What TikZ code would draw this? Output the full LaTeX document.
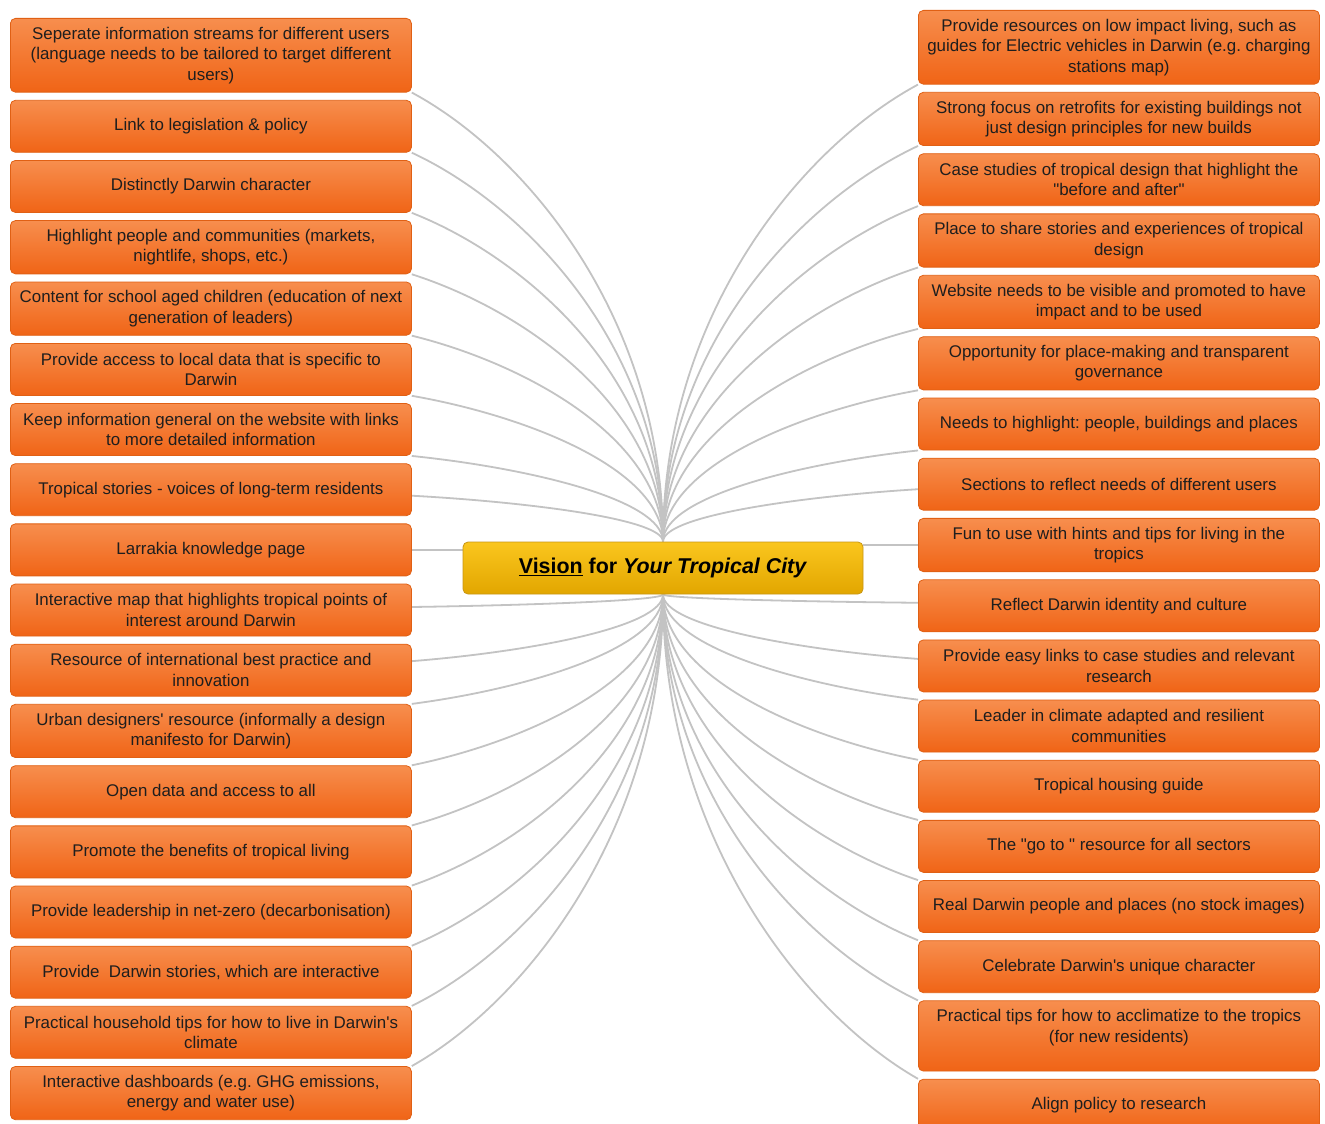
\documentclass[tikz,border=0pt]{standalone}
\usepackage{fontspec}
\setmainfont{Liberation Sans}
\usetikzlibrary{positioning}
\usetikzlibrary{calc}
\usetikzlibrary{backgrounds}
\frenchspacing

\definecolor{boxtop}{RGB}{247,142,78}
\definecolor{boxbottom}{RGB}{240,100,22}
\definecolor{boxedge}{RGB}{224,96,20}
\definecolor{boxtext}{RGB}{30,30,30}
\definecolor{hubtop}{RGB}{250,198,30}
\definecolor{hubbottom}{RGB}{226,166,0}
\definecolor{hubedge}{RGB}{200,150,20}
\definecolor{spokegray}{RGB}{195,195,195}

\tikzset{
  idea/.style={draw=boxedge, line width=0.8pt, rounded corners=5pt, top color=boxtop, bottom color=boxbottom,
    minimum width=401pt, minimum height=52pt, inner ysep=8.5pt, align=center, text=boxtext,
    font=\fontsize{16.9}{20.5}\selectfont},
  hub/.style={draw=hubedge, line width=0.8pt, rounded corners=5pt, top color=hubtop, bottom color=hubbottom,
    minimum width=400pt, minimum height=52pt, text=black, font=\fontsize{21.4}{25}\selectfont\bfseries},
  spoke/.style={draw=spokegray, line width=1.8pt,
    to path={.. controls ($(\tikztostart)!0.5!(\tikztostart |- \tikztotarget)$)
      and ($(\tikztotarget)!0.45!($(\tikztostart |- \tikztotarget)!0.3!(\tikztostart)$)$) .. (\tikztotarget) \tikztonodes}}
}

\begin{document}
\begin{tikzpicture}[x=1pt, y=-1pt, node distance=7.35pt]
    \useasboundingbox (0,0) rectangle (1325,1124);
    \node[hub] (vision) at (663,568) {\underline{Vision} for \textit{Your Tropical City}};

    % left column
    \node[idea, anchor=north west] (streams) at (10,18) {Seperate information streams for different users\\(language needs to be tailored to target different\\users)};
    \node[idea, below=of streams] (legislation) {Link to legislation \& policy};
    \node[idea, below=of legislation] (character) {Distinctly Darwin character};
    \node[idea, below=of character] (communities) {Highlight people and communities (markets,\\nightlife, shops, etc.)};
    \node[idea, below=of communities] (school_content) {Content for school aged children (education of next\\generation of leaders)};
    \node[idea, below=of school_content] (local_data) {Provide access to local data that is specific to\\Darwin};
    \node[idea, below=of local_data] (general_info) {Keep information general on the website with links\\to more detailed information};
    \node[idea, below=of general_info] (tropical_stories) {Tropical stories - voices of long-term residents};
    \node[idea, below=of tropical_stories] (larrakia) {Larrakia knowledge page};
    \node[idea, below=of larrakia] (interactive_map) {Interactive map that highlights tropical points of\\interest around Darwin};
    \node[idea, below=of interactive_map] (best_practice) {Resource of international best practice and\\innovation};
    \node[idea, below=of best_practice] (design_manifesto) {Urban designers\textquotesingle\ resource (informally a design\\manifesto for Darwin)};
    \node[idea, below=of design_manifesto] (open_data) {Open data and access to all};
    \node[idea, below=of open_data] (tropical_living) {Promote the benefits of tropical living};
    \node[idea, below=of tropical_living] (net_zero) {Provide leadership in net-zero (decarbonisation)};
    \node[idea, below=of net_zero] (darwin_stories) {Provide~~Darwin stories, which are interactive};
    \node[idea, below=of darwin_stories] (household_tips) {Practical household tips for how to live in Darwin\textquotesingle s\\climate};
    \node[idea, below=of household_tips] (dashboards) {Interactive dashboards (e.g. GHG emissions,\\energy and water use)};

    % right column
    \node[idea, anchor=north west] (low_impact) at (918,10) {Provide resources on low impact living, such as\\guides for Electric vehicles in Darwin (e.g. charging\\stations map)};
    \node[idea, below=of low_impact] (retrofits) {Strong focus on retrofits for existing buildings not\\just design principles for new builds};
    \node[idea, below=of retrofits] (case_studies) {Case studies of tropical design that highlight the\\\textquotedbl before and after\textquotedbl};
    \node[idea, below=of case_studies] (share_stories) {Place to share stories and experiences of tropical\\design};
    \node[idea, below=of share_stories] (visible_site) {Website needs to be visible and promoted to have\\impact and to be used};
    \node[idea, below=of visible_site] (place_making) {Opportunity for place-making and transparent\\governance};
    \node[idea, below=of place_making] (highlight_needs) {Needs to highlight: people, buildings and places};
    \node[idea, below=of highlight_needs] (user_sections) {Sections to reflect needs of different users};
    \node[idea, below=of user_sections] (hints_tips) {Fun to use with hints and tips for living in the\\tropics};
    \node[idea, below=of hints_tips] (identity) {Reflect Darwin identity and culture};
    \node[idea, below=of identity] (easy_links) {Provide easy links to case studies and relevant\\research};
    \node[idea, below=of easy_links] (climate_leader) {Leader in climate adapted and resilient\\communities};
    \node[idea, below=of climate_leader] (housing_guide) {Tropical housing guide};
    \node[idea, below=of housing_guide] (go_to) {The \textquotedbl go to \textquotedbl\ resource for all sectors};
    \node[idea, below=of go_to] (real_people) {Real Darwin people and places (no stock images)};
    \node[idea, below=of real_people] (unique_character) {Celebrate Darwin\textquotesingle s unique character};
    \node[idea, below=of unique_character] (acclimatize) {Practical tips for how to acclimatize to the tropics\\(for new residents)\\\mbox{}};
    \node[idea, below=of acclimatize] (align_policy) {Align policy to research};

    % line ends off the corners
    \coordinate (tropical_stories_end) at ([yshift=-6pt]tropical_stories.east);
    \coordinate (interactive_map_end) at ([yshift=3pt]interactive_map.east);
    \coordinate (best_practice_end) at ([yshift=9pt]best_practice.east);
    \coordinate (user_sections_end) at ([yshift=-5pt]user_sections.west);
    \coordinate (identity_end) at ([yshift=3pt]identity.west);
    \coordinate (easy_links_end) at ([yshift=7pt]easy_links.west);

    \begin{scope}[on background layer]
        \fill[white] (0,0) rectangle (1325,1124);
        \draw[spoke] (vision.north) to (streams.south east);
        \draw[spoke] (vision.north) to (legislation.south east);
        \draw[spoke] (vision.north) to (character.south east);
        \draw[spoke] (vision.north) to (communities.south east);
        \draw[spoke] (vision.north) to (school_content.south east);
        \draw[spoke] (vision.north) to (local_data.south east);
        \draw[spoke] (vision.north) to (general_info.south east);
        \draw[spoke] (vision.north) to (tropical_stories_end);
        \draw[spoke] (larrakia.east) -- (vision.west |- larrakia.east);
        \draw[spoke] (vision.south) to (interactive_map_end);
        \draw[spoke] (vision.south) to (best_practice_end);
        \draw[spoke] (vision.south) to (design_manifesto.north east);
        \draw[spoke] (vision.south) to (open_data.north east);
        \draw[spoke] (vision.south) to (tropical_living.north east);
        \draw[spoke] (vision.south) to (net_zero.north east);
        \draw[spoke] (vision.south) to (darwin_stories.north east);
        \draw[spoke] (vision.south) to (household_tips.north east);
        \draw[spoke] (vision.south) to (dashboards.north east);

        \draw[spoke] (vision.north) to (low_impact.south west);
        \draw[spoke] (vision.north) to (retrofits.south west);
        \draw[spoke] (vision.north) to (case_studies.south west);
        \draw[spoke] (vision.north) to (share_stories.south west);
        \draw[spoke] (vision.north) to (visible_site.south west);
        \draw[spoke] (vision.north) to (place_making.south west);
        \draw[spoke] (vision.north) to (highlight_needs.south west);
        \draw[spoke] (vision.north) to (user_sections_end);
        \draw[spoke] (hints_tips.west) -- (vision.east |- hints_tips.west);
        \draw[spoke] (vision.south) to (identity_end);
        \draw[spoke] (vision.south) to (easy_links_end);
        \draw[spoke] (vision.south) to (climate_leader.north west);
        \draw[spoke] (vision.south) to (housing_guide.north west);
        \draw[spoke] (vision.south) to (go_to.north west);
        \draw[spoke] (vision.south) to (real_people.north west);
        \draw[spoke] (vision.south) to (unique_character.north west);
        \draw[spoke] (vision.south) to (acclimatize.north west);
        \draw[spoke] (vision.south) to (align_policy.north west);
    \end{scope}
\end{tikzpicture}
\end{document}
